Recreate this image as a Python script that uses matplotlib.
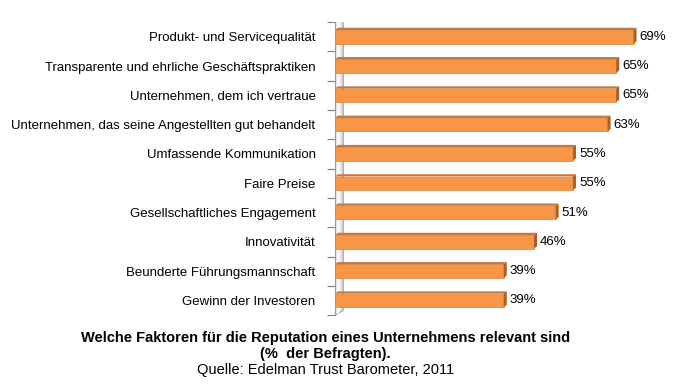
import matplotlib
matplotlib.use('Agg')
import matplotlib.pyplot as plt
from matplotlib.patches import Polygon
import numpy as np

plt.rcParams['font.family'] = ['Liberation Sans', 'DejaVu Sans']

categories = ['Produkt- und Servicequalität',
              'Transparente und ehrliche Geschäftspraktiken',
              'Unternehmen, dem ich vertraue',
              'Unternehmen, das seine Angestellten gut behandelt',
              'Umfassende Kommunikation',
              'Faire Preise',
              'Gesellschaftliches Engagement',
              'Innovativität',
              'Beunderte Führungsmannschaft',
              'Gewinn der Investoren']
values = [69, 65, 65, 63, 55, 55, 51, 46, 39, 39]

fig = plt.figure(figsize=(6.95, 3.89), dpi=100)
ax = fig.add_axes([0.482, 0.19, 0.498, 0.753])

n = len(values)
y = np.arange(n)[::-1]
h = 0.46
dx, dy = 0.7, 0.08  # 3d depth in data units

# side wall
wx = 1.9
wall = Polygon([(0, -0.5), (wx, -0.5 + 2*dy), (wx, n - 0.5 + 2*dy), (0, n - 0.5)],
               closed=True, facecolor='#e4e4e4', edgecolor='#9a9a9a', lw=0.8, zorder=1)
ax.add_patch(wall)
ax.add_patch(Polygon([(0.4, -0.5 + 0.4*dy), (1.2, -0.5 + 1.3*dy), (1.2, n - 0.5 + 1.3*dy), (0.4, n - 0.5 + 0.4*dy)],
                     closed=True, facecolor='#f8f8f8', edgecolor='none', zorder=1))

ax.barh(y, values, height=h, color='#f79646', edgecolor='#d8833f', lw=0.5, zorder=3)
for yi, v in zip(y, values):
    top = yi + h/2
    ax.add_patch(Polygon([(0, top), (dx, top + dy), (v + dx, top + dy), (v, top)],
                         closed=True, facecolor='#c9783a', edgecolor='none', zorder=3))
    ax.add_patch(Polygon([(v, top), (v + dx, top + dy), (v + dx, yi - h/2 + dy), (v, yi - h/2)],
                         closed=True, facecolor='#a85f28', edgecolor='none', zorder=3))
    ax.text(v + 1.4, yi, f'{v}%', va='center', ha='left', fontsize=9.5)

ax.set_xlim(0, 80)
ax.set_ylim(-0.5, n - 0.5)
ax.set_yticks(y)
ax.set_yticklabels(categories, fontsize=9.5)
ax.set_yticks(np.arange(n + 1) - 0.5, minor=True)
ax.tick_params(axis='y', which='major', length=0, pad=14)
ax.tick_params(axis='y', which='minor', length=6, color='#808080', width=0.8)
ax.set_xticks([])
for s in ax.spines.values():
    s.set_visible(False)
ax.spines['left'].set_visible(True)
ax.spines['left'].set_color('#9a9a9a')
ax.spines['left'].set_linewidth(0.8)

fig.text(0.468, 0.131, 'Welche Faktoren für die Reputation eines Unternehmens relevant sind',
         ha='center', va='center', fontsize=10.5, fontweight='bold')
fig.text(0.468, 0.089, '(%  der Befragten).', ha='center', va='center', fontsize=10.5, fontweight='bold')
fig.text(0.468, 0.048, 'Quelle: Edelman Trust Barometer, 2011', ha='center', va='center', fontsize=10.5)

fig.savefig('out.png', dpi=100)
